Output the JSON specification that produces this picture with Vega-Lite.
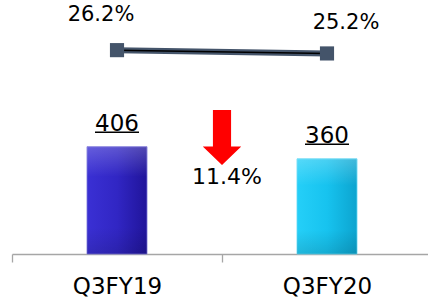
{
  "$schema": "https://vega.github.io/schema/vega-lite/v6.json",
  "autosize": "none",
  "width": 416,
  "height": 254,
  "padding": {"left": 12, "top": 0, "right": 0, "bottom": 47},
  "background": "white",
  "config": {"view": {"stroke": null}, "font": "DejaVu Sans"},
  "datasets": {
    "main": [
      {"cat": "Q3FY19", "v": 406, "pct": 26.2, "vl": "406", "pl": "26.2%"},
      {"cat": "Q3FY20", "v": 360, "pct": 25.2, "vl": "360", "pl": "25.2%"}
    ],
    "change": [
      {"cat": "Q3FY20", "v": 441, "label": "11.4%"}
    ]
  },
  "data": {"name": "main"},
  "encoding": {
    "x": {
      "field": "cat", "type": "nominal", "sort": null,
      "scale": {"range": [0, 420], "paddingInner": 0, "paddingOuter": 0},
      "axis": {
        "title": null, "labelAngle": 0, "labelFontSize": 23, "labelColor": "#000000",
        "labelFont": "DejaVu Sans", "domainColor": "#a6a6a6", "tickColor": "#a6a6a6",
        "tickBand": "extent", "tickSize": 8, "labelPadding": 13, "domainWidth": 1.3, "tickWidth": 1.3
      }
    }
  },
  "layer": [
    {
      "transform": [{"filter": "datum.cat === 'Q3FY19'"}],
      "mark": {"type": "bar", "size": 60, "stroke": "#7a74d8", "strokeWidth": 0.8,
        "color": {"gradient": "linear", "x1": 0, "x2": 1, "y1": 0, "y2": 0,
          "stops": [{"offset": 0, "color": "#3a30d4"}, {"offset": 0.5, "color": "#3126c4"}, {"offset": 1, "color": "#20149a"}]}},
      "encoding": {"y": {"field": "v", "type": "quantitative", "scale": {"domain": [0, 961]}, "axis": null}}
    },
    {
      "transform": [{"filter": "datum.cat === 'Q3FY20'"}],
      "mark": {"type": "bar", "size": 60, "stroke": "#5fd8f5", "strokeWidth": 0.8,
        "color": {"gradient": "linear", "x1": 0, "x2": 1, "y1": 0, "y2": 0,
          "stops": [{"offset": 0, "color": "#25cff8"}, {"offset": 0.5, "color": "#17c3ef"}, {"offset": 1, "color": "#0ca4cf"}]}},
      "encoding": {"y": {"field": "v", "type": "quantitative", "scale": {"domain": [0, 961]}, "axis": null}}
    },
    {
      "mark": {"type": "bar", "size": 60,
        "color": {"gradient": "linear", "x1": 0, "x2": 0, "y1": 0, "y2": 1,
          "stops": [{"offset": 0, "color": "rgba(255,255,255,0.22)"}, {"offset": 0.28, "color": "rgba(255,255,255,0)"}, {"offset": 0.75, "color": "rgba(0,0,0,0)"}, {"offset": 1, "color": "rgba(0,0,0,0.12)"}]}},
      "encoding": {"y": {"field": "v", "type": "quantitative", "scale": {"domain": [0, 961]}, "axis": null}}
    },
    {
      "mark": {"type": "text", "baseline": "alphabetic", "dy": -16, "fontSize": 23, "color": "#000000"},
      "encoding": {
        "y": {"field": "v", "type": "quantitative", "scale": {"domain": [0, 961]}, "axis": null},
        "text": {"field": "vl"}
      }
    },
    {
      "mark": {"type": "tick", "size": 44, "thickness": 1.5, "yOffset": -14.5, "color": "#000000", "opacity": 1},
      "encoding": {"y": {"field": "v", "type": "quantitative", "scale": {"domain": [0, 961]}, "axis": null}}
    },
    {
      "data": {"name": "change"},
      "mark": {"type": "point", "filled": true, "size": 3025, "opacity": 1, "color": "#ff0000", "strokeWidth": 0,
        "shape": "M-0.33,-1 L0.33,-1 L0.33,0.33 L0.7,0.33 L0,1 L-0.7,0.33 L-0.33,0.33 Z"},
      "encoding": {
        "x": {"field": "cat", "type": "nominal", "bandPosition": 0},
        "y": {"field": "v", "type": "quantitative", "scale": {"domain": [0, 961]}, "axis": null}
      }
    },
    {
      "data": {"name": "change"},
      "mark": {"type": "text", "baseline": "alphabetic", "dy": 46.5, "dx": 5, "fontSize": 22, "color": "#000000"},
      "encoding": {
        "x": {"field": "cat", "type": "nominal", "bandPosition": 0},
        "y": {"field": "v", "type": "quantitative", "scale": {"domain": [0, 961]}, "axis": null},
        "text": {"field": "label"}
      }
    },
    {
      "mark": {"type": "line", "color": "#44546a", "strokeWidth": 6},
      "encoding": {"y": {"field": "pct", "type": "quantitative", "scale": {"domain": [-35.6, 41.4]}, "axis": null}}
    },
    {
      "mark": {"type": "line", "color": "#000000", "strokeWidth": 1.5},
      "encoding": {"y": {"field": "pct", "type": "quantitative", "scale": {"domain": [-35.6, 41.4]}, "axis": null}}
    },
    {
      "mark": {"type": "point", "shape": "square", "filled": true, "size": 200, "color": "#44546a", "opacity": 1},
      "encoding": {"y": {"field": "pct", "type": "quantitative", "scale": {"domain": [-35.6, 41.4]}, "axis": null}}
    },
    {
      "transform": [{"filter": "datum.cat === 'Q3FY19'"}],
      "mark": {"type": "text", "baseline": "alphabetic", "dy": -29, "dx": -16, "fontSize": 21, "color": "#000000"},
      "encoding": {
        "y": {"field": "pct", "type": "quantitative", "scale": {"domain": [-35.6, 41.4]}, "axis": null},
        "text": {"field": "pl"}
      }
    },
    {
      "transform": [{"filter": "datum.cat === 'Q3FY20'"}],
      "mark": {"type": "text", "baseline": "alphabetic", "dy": -24, "dx": 19, "fontSize": 21, "color": "#000000"},
      "encoding": {
        "y": {"field": "pct", "type": "quantitative", "scale": {"domain": [-35.6, 41.4]}, "axis": null},
        "text": {"field": "pl"}
      }
    }
  ],
  "resolve": {"scale": {"y": "independent"}}
}
